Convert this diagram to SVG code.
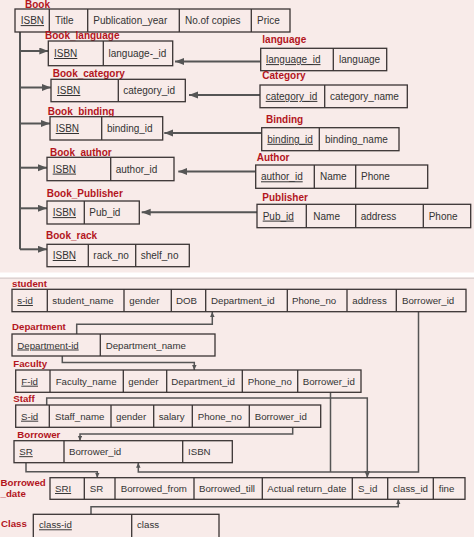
<svg xmlns="http://www.w3.org/2000/svg" width="474" height="537" viewBox="0 0 474 537">
<defs>
<style>
.cell{fill:#f8ebe9;stroke:#3a3434;stroke-width:1.3}
.div{stroke:#3a3434;stroke-width:1.3}
.t{font-family:"Liberation Sans",Arial,sans-serif;font-size:10px;fill:#333}
.b .t{font-size:9.7px}
.k{text-decoration:underline}
.lbl{font-family:"Liberation Sans",Arial,sans-serif;font-size:10px;font-weight:bold;fill:#b3151d}
.b .lbl{font-size:9.7px}
.con{fill:none;stroke:#555;stroke-width:2}
.con2{fill:none;stroke:#555;stroke-width:1.5}
</style>
<marker id="big" markerUnits="userSpaceOnUse" markerWidth="10" markerHeight="8" refX="9" refY="3.5" orient="auto"><path d="M0,0 L9,3.5 L0,7 z" fill="#555"/></marker>
<marker id="med" markerUnits="userSpaceOnUse" markerWidth="8" markerHeight="7" refX="7" refY="3" orient="auto"><path d="M0,0 L7,3 L0,6 z" fill="#555"/></marker>
<marker id="sm" markerUnits="userSpaceOnUse" markerWidth="6" markerHeight="5" refX="5" refY="2.25" orient="auto"><path d="M0,0 L5,2.25 L0,4.5 z" fill="#555"/></marker>
</defs>
<rect x="0" y="0" width="474" height="537" fill="#f8ebe9"/>
<rect x="0" y="272.5" width="474" height="5" fill="#ffffff"/>
<rect x="0" y="277.5" width="474" height="1.5" fill="#ddd3d2"/>

<g id="connectors">
<path class="con" d="M20,32 V249.3"/>
<path class="con" d="M20,51 H48.3" marker-end="url(#big)"/>
<path class="con" d="M20,87.5 H51" marker-end="url(#big)"/>
<path class="con" d="M20,123.5 H50" marker-end="url(#big)"/>
<path class="con" d="M20,167.7 H47" marker-end="url(#big)"/>
<path class="con" d="M20,208.3 H47" marker-end="url(#big)"/>
<path class="con" d="M20,249.3 H47" marker-end="url(#big)"/>
<path class="con" d="M260.7,61.5 H175" marker-end="url(#big)"/>
<path class="con" d="M260,95 H189" marker-end="url(#big)"/>
<path class="con" d="M261.7,133 H164.3" marker-end="url(#big)"/>
<path class="con" d="M255.7,171.5 H178.3" marker-end="url(#big)"/>
<path class="con" d="M257,212.3 H141.7" marker-end="url(#big)"/>
<g class="b">
<path class="con2" d="M76.7,334 V324.3 H212.3 V312" marker-end="url(#sm)"/>
<path class="con2" d="M62.3,356 V362.5 H194.3 V370" marker-end="url(#sm)"/>
<path class="con2" d="M46.7,405 V398 H367.3 V477.7" marker-end="url(#med)"/>
<path class="con2" d="M418.5,311.7 V472 H138.3 V462.7" marker-end="url(#sm)"/>
<path class="con2" d="M330.5,392.3 V472"/>
<path class="con2" d="M292.7,427.3 V434 H80 V440.7" marker-end="url(#sm)"/>
<path class="con2" d="M26,462.7 V471.7 H97.3 V477.7" marker-end="url(#sm)"/>
<path class="con2" d="M91,514.3 V506.7 H398.3 V499.3" marker-end="url(#sm)"/>
</g>
</g>

<g id="Book">
<text class="lbl" x="25" y="7.5">Book</text>
<rect class="cell" x="15" y="9" width="275" height="23"/>
<path class="div" d="M49.3,9 V32 M87.7,9 V32 M179.3,9 V32 M251.3,9 V32"/>
<text class="t k" x="20.7" y="24.1">ISBN</text>
<text class="t" x="55" y="24.1">Title</text>
<text class="t" x="93.3" y="24.1">Publication_year</text>
<text class="t" x="185" y="24.1">No.of copies</text>
<text class="t" x="257" y="24.1">Price</text>
</g>

<g id="Book_language">
<text class="lbl" x="45" y="38.7">Book_language</text>
<rect class="cell" x="48.3" y="41" width="124.4" height="24.7"/>
<path class="div" d="M103.3,41 V65.7"/>
<text class="t k" x="54" y="57">ISBN</text>
<text class="t" x="108.5" y="57">language-_id</text>
</g>

<g id="language">
<text class="lbl" x="262.3" y="42.5">language</text>
<rect class="cell" x="260.7" y="48.3" width="126" height="22.4"/>
<path class="div" d="M333.3,48.3 V70.7"/>
<text class="t k" x="266" y="63.1">language_id</text>
<text class="t" x="339" y="63.1">language</text>
</g>

<g id="Book_category">
<text class="lbl" x="52.7" y="77">Book_category</text>
<rect class="cell" x="51" y="79.3" width="134.3" height="22.4"/>
<path class="div" d="M118.3,79.3 V101.7"/>
<text class="t k" x="57" y="94">ISBN</text>
<text class="t" x="123.3" y="94">category_id</text>
</g>

<g id="Category">
<text class="lbl" x="262.3" y="79.3">Category</text>
<rect class="cell" x="260" y="85" width="147.3" height="22.7"/>
<path class="div" d="M324.7,85 V107.7"/>
<text class="t k" x="265.7" y="99.9">category_id</text>
<text class="t" x="330" y="99.9">category_name</text>
</g>

<g id="Book_binding">
<text class="lbl" x="47.7" y="114.5">Book_binding</text>
<rect class="cell" x="50" y="116.7" width="112.7" height="23.3"/>
<path class="div" d="M101.7,116.7 V140"/>
<text class="t k" x="55.7" y="132">ISBN</text>
<text class="t" x="107" y="132">binding_id</text>
</g>

<g id="Binding">
<text class="lbl" x="266" y="123">Binding</text>
<rect class="cell" x="261.7" y="127.7" width="137.3" height="23"/>
<path class="div" d="M319.3,127.7 V150.7"/>
<text class="t k" x="267.3" y="142.8">binding_id</text>
<text class="t" x="325" y="142.8">binding_name</text>
</g>

<g id="Book_author">
<text class="lbl" x="50" y="155.5">Book_author</text>
<rect class="cell" x="47" y="157.3" width="127" height="23.4"/>
<path class="div" d="M110.7,157.3 V180.7"/>
<text class="t k" x="52.7" y="172.6">ISBN</text>
<text class="t" x="115.7" y="172.6">author_id</text>
</g>

<g id="Author">
<text class="lbl" x="256.7" y="161">Author</text>
<rect class="cell" x="255.7" y="165" width="172" height="23.3"/>
<path class="div" d="M314.3,165 V188.3 M355.7,165 V188.3"/>
<text class="t k" x="261" y="180.3">author_id</text>
<text class="t" x="320" y="180.3">Name</text>
<text class="t" x="361" y="180.3">Phone</text>
</g>

<g id="Book_Publisher">
<text class="lbl" x="46.7" y="197.3">Book_Publisher</text>
<rect class="cell" x="47" y="201" width="92.3" height="23"/>
<path class="div" d="M84.3,201 V224"/>
<text class="t k" x="52.7" y="216.1">ISBN</text>
<text class="t" x="89.3" y="216.1">Pub_id</text>
</g>

<g id="Publisher">
<text class="lbl" x="262.3" y="201">Publisher</text>
<rect class="cell" x="257" y="204.3" width="213.7" height="23.4"/>
<path class="div" d="M306.3,204.3 V227.7 M355.7,204.3 V227.7 M423.3,204.3 V227.7"/>
<text class="t k" x="262.7" y="219.6">Pub_id</text>
<text class="t" x="313.3" y="219.6">Name</text>
<text class="t" x="360.7" y="219.6">address</text>
<text class="t" x="428.7" y="219.6">Phone</text>
</g>

<g id="Book_rack">
<text class="lbl" x="46" y="239.3">Book_rack</text>
<rect class="cell" x="47" y="244.3" width="142.3" height="22.4"/>
<path class="div" d="M88.3,244.3 V266.7 M135.7,244.3 V266.7"/>
<text class="t k" x="52.7" y="259">ISBN</text>
<text class="t" x="93.3" y="259">rack_no</text>
<text class="t" x="140.7" y="259">shelf_no</text>
</g>

<g class="b">
<g id="student">
<text class="lbl" x="12" y="286.7">student</text>
<rect class="cell" x="12" y="289.3" width="454" height="22.4"/>
<path class="div" d="M47.3,289.3 V311.7 M124,289.3 V311.7 M171.3,289.3 V311.7 M205.7,289.3 V311.7 M287.3,289.3 V311.7 M347,289.3 V311.7 M396.3,289.3 V311.7"/>
<text class="t k" x="17.3" y="304">s-id</text>
<text class="t" x="52.3" y="304">student_name</text>
<text class="t" x="129.3" y="304">gender</text>
<text class="t" x="176" y="304">DOB</text>
<text class="t" x="211" y="304">Department_id</text>
<text class="t" x="292" y="304">Phone_no</text>
<text class="t" x="352.3" y="304">address</text>
<text class="t" x="402" y="304">Borrower_id</text>
</g>

<g id="Department">
<text class="lbl" x="12" y="330.3">Department</text>
<rect class="cell" x="12" y="334" width="203" height="22"/>
<path class="div" d="M100.3,334 V356"/>
<text class="t k" x="17.3" y="348.5">Department-id</text>
<text class="t" x="105.7" y="348.5">Department_name</text>
</g>

<g id="Faculty">
<text class="lbl" x="13.3" y="366.5">Faculty</text>
<rect class="cell" x="15.7" y="370" width="345.3" height="22.3"/>
<path class="div" d="M50,370 V392.3 M123.3,370 V392.3 M166.7,370 V392.3 M242.3,370 V392.3 M297.7,370 V392.3"/>
<text class="t k" x="21.3" y="384.7">F-id</text>
<text class="t" x="55.7" y="384.7">Faculty_name</text>
<text class="t" x="128.3" y="384.7">gender</text>
<text class="t" x="171.3" y="384.7">Department_id</text>
<text class="t" x="247.7" y="384.7">Phone_no</text>
<text class="t" x="302.7" y="384.7">Borrower_id</text>
</g>

<g id="Staff">
<text class="lbl" x="13.3" y="401.5">Staff</text>
<rect class="cell" x="15.7" y="405" width="305" height="22.3"/>
<path class="div" d="M49.3,405 V427.3 M111,405 V427.3 M153.7,405 V427.3 M192.3,405 V427.3 M249.3,405 V427.3"/>
<text class="t k" x="21" y="419.7">S-id</text>
<text class="t" x="55" y="419.7">Staff_name</text>
<text class="t" x="116" y="419.7">gender</text>
<text class="t" x="158.7" y="419.7">salary</text>
<text class="t" x="197.7" y="419.7">Phone_no</text>
<text class="t" x="254.7" y="419.7">Borrower_id</text>
</g>

<g id="Borrower">
<text class="lbl" x="17.3" y="437.7">Borrower</text>
<rect class="cell" x="14" y="440.7" width="218.3" height="22"/>
<path class="div" d="M64,440.7 V462.7 M182.7,440.7 V462.7"/>
<text class="t k" x="19.3" y="455.2">SR</text>
<text class="t" x="69" y="455.2">Borrower_id</text>
<text class="t" x="188" y="455.2">ISBN</text>
</g>

<g id="Borrowed_date">
<text class="lbl" x="0.5" y="485.7">Borrowed</text>
<text class="lbl" x="0.5" y="497">_date</text>
<rect class="cell" x="50" y="477.7" width="415" height="21.6"/>
<path class="div" d="M84.3,477.7 V499.3 M115,477.7 V499.3 M194,477.7 V499.3 M262.3,477.7 V499.3 M352.3,477.7 V499.3 M387.7,477.7 V499.3 M433.3,477.7 V499.3"/>
<text class="t k" x="55" y="492">SRI</text>
<text class="t" x="89.7" y="492">SR</text>
<text class="t" x="120.7" y="492">Borrowed_from</text>
<text class="t" x="199" y="492">Borrowed_till</text>
<text class="t" x="267.3" y="492">Actual return_date</text>
<text class="t" x="358" y="492">S_id</text>
<text class="t" x="393" y="492">class_id</text>
<text class="t" x="438.7" y="492">fine</text>
</g>

<g id="Class">
<text class="lbl" x="1" y="527.3">Class</text>
<rect class="cell" x="33.3" y="514.3" width="185.7" height="24"/>
<path class="div" d="M131.7,514.3 V538.3"/>
<text class="t k" x="39" y="528.3">class-id</text>
<text class="t" x="137" y="528.3">class</text>
</g>
</g>
</svg>
